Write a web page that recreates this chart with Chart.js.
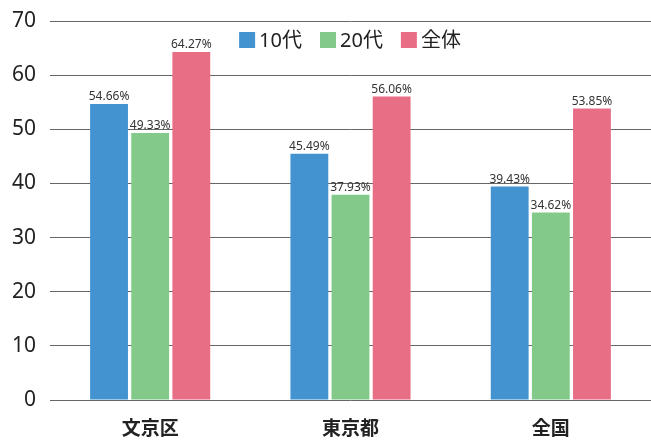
<!DOCTYPE html>
<html><head><meta charset="utf-8">
<script src="https://cdn.jsdelivr.net/npm/chart.js@4/dist/chart.umd.min.js"></script>
<style>html,body{margin:0;padding:0;background:#fff}#wrap{width:651px;height:440px}</style>
</head><body><div id="wrap"><canvas id="c"></canvas></div>
<script>
const categories = ['文京区', '東京都', '全国'];
const seriesNames = ['10代', '20代', '全体'];
const teens = [54.66, 45.49, 39.43];
const twenties = [49.33, 37.93, 34.62];
const overall = [64.27, 56.06, 53.85];
const yTicks = [0, 10, 20, 30, 40, 50, 60, 70];
const colors = ['#4293D0', '#83C98A', '#E86E85'];

const FONT = '"Noto Sans", "Noto Sans CJK JP", sans-serif';

const labelPlugin = {
  id: 'barLabels',
  afterDatasetsDraw(chart) {
    const ctx = chart.ctx;
    ctx.save();
    ctx.font = '12px ' + FONT;
    ctx.fillStyle = '#333';
    ctx.textAlign = 'center';
    ctx.textBaseline = 'bottom';
    chart.data.datasets.forEach((ds, i) => {
      chart.getDatasetMeta(i).data.forEach((bar, j) => {
        ctx.fillText(ds.data[j].toFixed(2) + '%', bar.x, bar.y - 1);
      });
    });
    ctx.restore();
  }
};

const legendPlugin = {
  id: 'topLegend',
  afterDraw(chart) {
    const ctx = chart.ctx;
    const area = chart.chartArea;
    ctx.save();
    ctx.font = '20px ' + FONT;
    const box = 16, gap = 4, spacing = 18;
    const items = chart.data.datasets.map(d => ({ text: d.label, color: d.backgroundColor, w: ctx.measureText(d.label).width }));
    const total = items.reduce((s, it) => s + box + gap + it.w, 0) + spacing * (items.length - 1);
    let x = 350 - total / 2;
    const cy = area.top + 19;
    ctx.textBaseline = 'middle';
    ctx.textAlign = 'left';
    items.forEach(it => {
      ctx.fillStyle = it.color;
      ctx.fillRect(x, cy - box / 2, box, box);
      x += box + gap;
      ctx.fillStyle = '#222';
      ctx.fillText(it.text, x, cy + 1);
      x += it.w + spacing;
    });
    ctx.restore();
  }
};

new Chart(document.getElementById('c'), {
  type: 'bar',
  data: {
    labels: categories,
    datasets: [
      { label: seriesNames[0], data: teens, backgroundColor: colors[0] },
      { label: seriesNames[1], data: twenties, backgroundColor: colors[1] },
      { label: seriesNames[2], data: overall, backgroundColor: colors[2] }
    ]
  },
  options: {
    responsive: true,
    maintainAspectRatio: false,
    animation: false,
    layout: { padding: { top: 21, right: -3, bottom: 0, left: 0 } },
    datasets: { bar: { categoryPercentage: 0.616, barPercentage: 0.92 } },
    plugins: {
      legend: { display: false },
      tooltip: { enabled: false }
    },
    scales: {
      x: {
        afterFit(scale) { scale.height = 40; },
        grid: { display: false },
        border: { display: false },
        ticks: { color: '#222', font: { family: FONT, size: 19, weight: 'bold' }, padding: 10 }
      },
      y: {
        min: 0, max: 70,
        afterBuildTicks(scale) { scale.ticks = yTicks.map(v => ({ value: v })); },
        afterFit(scale) { scale.width = 50; scale.paddingTop = 0; scale.paddingBottom = 0; },
        grid: { color: '#666', lineWidth: 1, drawTicks: false },
        border: { display: false },
        ticks: { color: '#222', font: { family: FONT, size: 21 }, padding: 14 }
      }
    }
  },
  plugins: [labelPlugin, legendPlugin]
});
</script></body></html>
